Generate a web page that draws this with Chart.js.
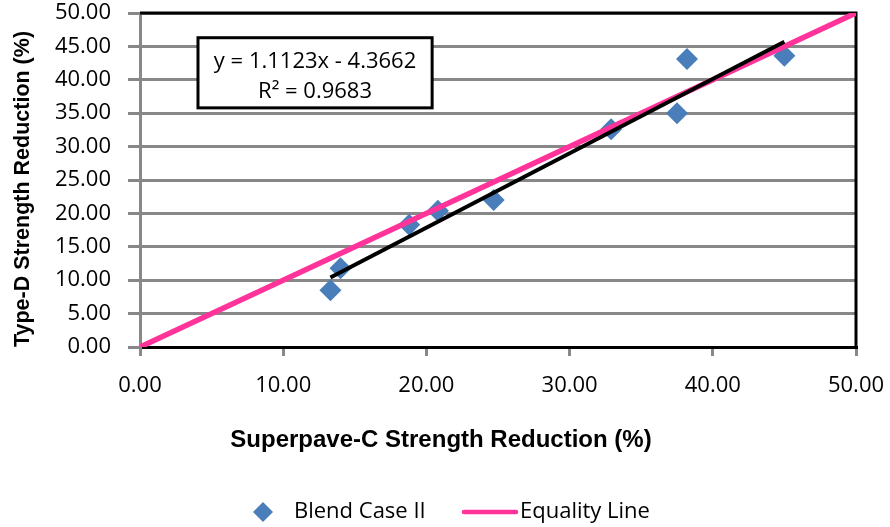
<!DOCTYPE html>
<html>
<head>
<meta charset="utf-8">
<script src="https://cdn.jsdelivr.net/npm/chart.js@4.4.0/dist/chart.umd.min.js"></script>
<style>
  html, body { margin: 0; padding: 0; background: #fff; }
</style>
</head>
<body>
<canvas id="myChart" width="890" height="527"></canvas>
<script>
// values
var superpaveC = [13.3, 14.0, 18.8, 20.8, 24.7, 32.9, 37.5, 38.2, 45.0]
var typeD = [8.5, 11.8, 18.3, 20.4, 22.0, 32.6, 35.0, 43.1, 43.6]

// linear trendline ends (Excel)
var trendX = [13.3, 45.0]
var trendY = [10.4, 45.7]

var equalX = [0, 50]
var equalY = [0, 50]

var xTicks = [0, 10, 20, 30, 40, 50]
var yTicks = [0, 5, 10, 15, 20, 25, 30, 35, 40, 45, 50]

var xTitle = 'Superpave-C Strength Reduction (%)'
var yTitle = 'Type-D Strength Reduction (%)'
var eqnText = ['y = 1.1123x - 4.3662', 'R\u00b2 = 0.9683']

var blue = '#4A7EBB'
var pink = '#FF3399'
var tickFont = '"Open Sans", sans-serif'
var titleFont = '"Liberation Sans", Arial, sans-serif'

function pts(xs, ys) {
  return xs.map(function(x, i) { return { x: x, y: ys[i] } })
}

// black frame on top and right of plot area
var frame = {
  id: 'frame',
  beforeDatasetsDraw: function(chart) {
    var a = chart.chartArea, ctx = chart.ctx
    ctx.save()
    ctx.strokeStyle = '#000'
    ctx.lineWidth = 3
    ctx.beginPath()
    ctx.moveTo(a.left, a.top)
    ctx.lineTo(a.right, a.top)
    ctx.lineTo(a.right, a.bottom)
    ctx.stroke()
    ctx.restore()
  }
}

// equation label box, placed in data units
var eqnBox = { x0: 4.05, x1: 20.4, y0: 46.3, y1: 35.8 }
var equation = {
  id: 'equation',
  afterDatasetsDraw: function(chart) {
    var ctx = chart.ctx, sx = chart.scales.x, sy = chart.scales.y
    var l = sx.getPixelForValue(eqnBox.x0), r = sx.getPixelForValue(eqnBox.x1)
    var t = sy.getPixelForValue(eqnBox.y0), b = sy.getPixelForValue(eqnBox.y1)
    ctx.save()
    ctx.fillStyle = '#fff'
    ctx.fillRect(l, t, r - l, b - t)
    ctx.strokeStyle = '#000'
    ctx.lineWidth = 3
    ctx.strokeRect(l, t, r - l, b - t)
    ctx.fillStyle = '#000'
    ctx.font = '22px ' + tickFont
    ctx.textAlign = 'center'
    ctx.textBaseline = 'middle'
    ctx.fillText(eqnText[0], (l + r) / 2, t + 24)
    ctx.fillText(eqnText[1], (l + r) / 2, t + 54)
    ctx.restore()
  }
}

// axis titles (Excel puts them a bit off the axis centre)
var axisTitles = {
  id: 'axisTitles',
  afterDraw: function(chart) {
    var ctx = chart.ctx
    ctx.save()
    ctx.fillStyle = '#000'
    ctx.textAlign = 'center'
    ctx.textBaseline = 'middle'
    ctx.font = 'bold 24px ' + titleFont
    ctx.fillText(xTitle, 441, 440)
    ctx.translate(23, 189)
    ctx.rotate(-Math.PI / 2)
    ctx.font = 'bold 21.5px ' + titleFont
    ctx.fillText(yTitle, 0, 0)
    ctx.restore()
  }
}

// legend under the axis title
var legendRow = {
  id: 'legendRow',
  afterDraw: function(chart) {
    var ctx = chart.ctx, ds = chart.data.datasets
    var y = 512
    ctx.save()
    ctx.fillStyle = blue
    ctx.beginPath()
    ctx.moveTo(263, y - 10)
    ctx.lineTo(273, y)
    ctx.lineTo(263, y + 10)
    ctx.lineTo(253, y)
    ctx.closePath()
    ctx.fill()
    ctx.strokeStyle = pink
    ctx.lineWidth = 4.5
    ctx.lineCap = 'round'
    ctx.beginPath()
    ctx.moveTo(464, y)
    ctx.lineTo(516, y)
    ctx.stroke()
    ctx.fillStyle = '#000'
    ctx.font = '22px ' + tickFont
    ctx.textBaseline = 'middle'
    ctx.fillText(ds[0].label, 294, y)
    ctx.fillText(ds[2].label, 520, y)
    ctx.restore()
  }
}

var ctx = document.getElementById('myChart').getContext('2d')
var chart = new Chart(ctx, {
  type: 'scatter',
  data: {
    datasets: [
      {
        label: 'Blend Case II',
        data: pts(superpaveC, typeD),
        pointStyle: 'rectRot',
        pointRadius: 11,
        pointBackgroundColor: blue,
        pointBorderWidth: 0,
        order: 2
      },
      {
        label: 'Linear (Blend Case II)',
        data: pts(trendX, trendY),
        showLine: true,
        borderColor: '#000',
        borderWidth: 4,
        pointRadius: 0,
        order: 0
      },
      {
        label: 'Equality Line',
        data: pts(equalX, equalY),
        showLine: true,
        borderColor: pink,
        borderWidth: 5.5,
        pointRadius: 0,
        order: 1
      }
    ]
  },
  options: {
    responsive: false,
    animation: false,
    layout: { padding: { left: 0, right: 34, top: 13, bottom: 70 } },
    plugins: {
      legend: { display: false },
      tooltip: { enabled: false }
    },
    scales: {
      x: {
        min: 0, max: 50,
        afterFit: function(s) {
          s.height = 110
          s.paddingLeft = 0
          s.paddingRight = 0
        },
        afterBuildTicks: function(s) { s.ticks = xTicks.map(function(v) { return { value: v } }) },
        ticks: {
          padding: 17,
          color: '#000',
          font: { family: tickFont, size: 22 },
          maxRotation: 0,
          callback: function(v) { return Number(v).toFixed(2) }
        },
        grid: { drawOnChartArea: false, drawTicks: true, tickLength: 9, color: '#888', lineWidth: 3 },
        border: { color: '#000', width: 3 },
        title: { display: false, text: xTitle }
      },
      y: {
        min: 0, max: 50,
        afterFit: function(s) {
          s.width = 140
          s.paddingTop = 0
          s.paddingBottom = 0
        },
        afterBuildTicks: function(s) { s.ticks = yTicks.map(function(v) { return { value: v } }) },
        ticks: {
          padding: 17,
          color: '#000',
          font: { family: tickFont, size: 22 },
          callback: function(v) { return Number(v).toFixed(2) }
        },
        grid: { drawTicks: true, tickLength: 12, color: '#888', lineWidth: 3 },
        border: { color: '#888', width: 3 },
        title: { display: false, text: yTitle }
      }
    }
  },
  plugins: [frame, equation, axisTitles, legendRow]
})
</script>
</body>
</html>
